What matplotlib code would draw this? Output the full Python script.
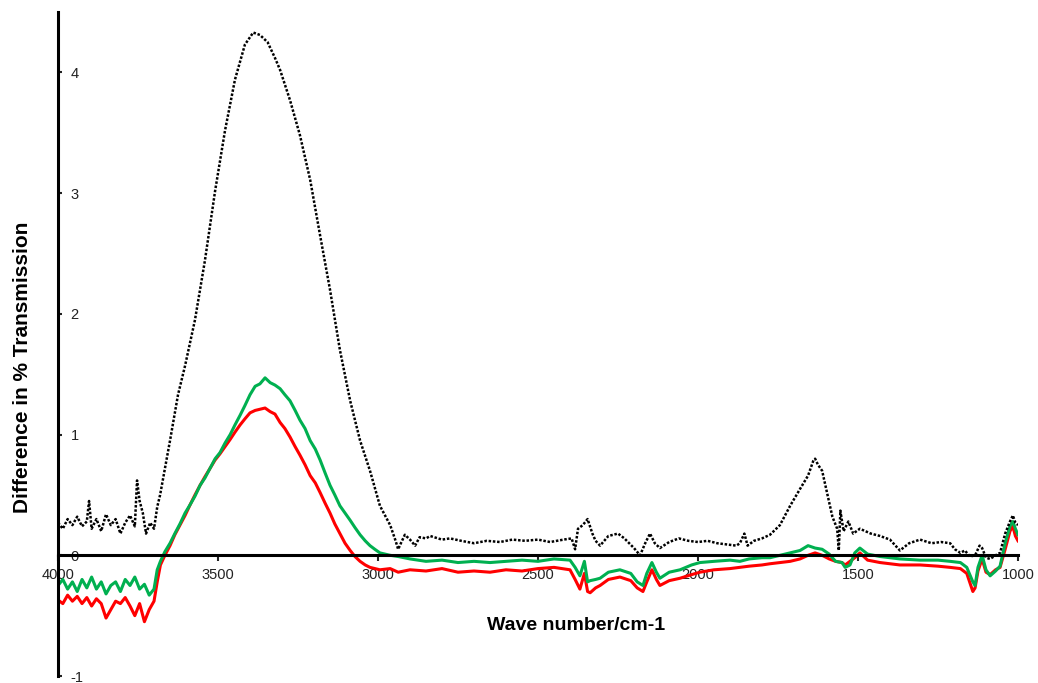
import matplotlib.pyplot as plt

plt.rcParams['font.family'] = ['Liberation Sans', 'DejaVu Sans']

# black trace
wn_black = [4000, 3985, 3970, 3955, 3940, 3925, 3910, 3903, 3895, 3880, 3865, 3850, 3835, 3820,
            3805, 3790, 3775, 3760, 3753, 3745, 3735, 3725, 3712, 3700, 3690, 3681, 3666, 3650,
            3625, 3603, 3572, 3541, 3509, 3478, 3447, 3416, 3390, 3369, 3345, 3322, 3306, 3275,
            3244, 3212, 3181, 3150, 3119, 3087, 3056, 3025, 2994, 2962, 2945, 2937, 2925, 2916,
            2900, 2884, 2870, 2850, 2837, 2800, 2775, 2740, 2700, 2660, 2619, 2580, 2540, 2500,
            2462, 2420, 2395, 2384, 2375, 2360, 2345, 2330, 2320, 2306, 2280, 2250, 2230, 2200,
            2181, 2165, 2150, 2135, 2119, 2090, 2060, 2030, 2000, 1970, 1940, 1910, 1880, 1869,
            1855, 1845, 1825, 1800, 1775, 1744, 1712, 1681, 1656, 1640, 1634, 1625, 1612, 1595,
            1580, 1565, 1560, 1555, 1545, 1530, 1515, 1494, 1460, 1431, 1400, 1369, 1340, 1306,
            1270, 1240, 1212, 1197, 1180, 1166, 1150, 1134, 1120, 1112, 1100, 1087, 1070, 1056,
            1040, 1025, 1016, 1008, 1000]
val_black = [0.27, 0.22, 0.30, 0.25, 0.32, 0.24, 0.28, 0.45, 0.22, 0.30, 0.20, 0.34, 0.25, 0.30,
             0.18, 0.27, 0.33, 0.24, 0.62, 0.45, 0.35, 0.18, 0.27, 0.22, 0.40, 0.50, 0.72, 0.95,
             1.33, 1.57, 1.95, 2.44, 3.02, 3.52, 3.94, 4.23, 4.33, 4.31, 4.25, 4.12, 4.02, 3.77,
             3.48, 3.11, 2.65, 2.20, 1.70, 1.28, 0.95, 0.70, 0.41, 0.25, 0.12, 0.05, 0.12, 0.17,
             0.13, 0.08, 0.15, 0.14, 0.16, 0.13, 0.14, 0.12, 0.10, 0.12, 0.11, 0.13, 0.12, 0.13,
             0.11, 0.13, 0.14, 0.05, 0.22, 0.25, 0.30, 0.18, 0.12, 0.08, 0.16, 0.18, 0.14, 0.06,
             0.00, 0.10, 0.18, 0.10, 0.06, 0.11, 0.14, 0.12, 0.11, 0.12, 0.10, 0.09, 0.08, 0.10,
             0.18, 0.08, 0.12, 0.14, 0.17, 0.25, 0.41, 0.55, 0.66, 0.78, 0.80, 0.75, 0.70, 0.50,
             0.32, 0.22, 0.04, 0.37, 0.20, 0.28, 0.18, 0.22, 0.18, 0.16, 0.13, 0.04, 0.10, 0.13,
             0.10, 0.11, 0.10, 0.05, 0.02, 0.04, -0.01, 0.00, 0.08, 0.06, -0.02, -0.03, 0.00, 0.02,
             0.18, 0.28, 0.33, 0.27, 0.25]

# green trace
wn_green = [4000, 3985, 3970, 3955, 3940, 3925, 3910, 3895, 3880, 3865, 3850, 3835, 3820, 3805,
            3790, 3775, 3760, 3745, 3730, 3715, 3700, 3690, 3680, 3666, 3650, 3635, 3619, 3603,
            3587, 3572, 3556, 3541, 3525, 3509, 3494, 3478, 3462, 3447, 3431, 3416, 3400, 3384,
            3369, 3353, 3337, 3322, 3306, 3291, 3275, 3259, 3244, 3228, 3212, 3196, 3181, 3165,
            3150, 3135, 3119, 3103, 3087, 3072, 3056, 3040, 3025, 3010, 2994, 2962, 2937, 2900,
            2850, 2800, 2750, 2700, 2650, 2600, 2550, 2500, 2450, 2400, 2384, 2369, 2355, 2345,
            2337, 2320, 2306, 2280, 2244, 2210, 2190, 2172, 2160, 2144, 2130, 2119, 2090, 2056,
            2020, 1994, 1950, 1900, 1869, 1840, 1800, 1775, 1744, 1712, 1681, 1656, 1634, 1612,
            1590, 1570, 1550, 1540, 1525, 1510, 1494, 1470, 1431, 1400, 1369, 1306, 1250, 1212,
            1180, 1160, 1141, 1134, 1125, 1112, 1100, 1087, 1070, 1056, 1040, 1025, 1016, 1008,
            1000]
val_green = [-0.25, -0.20, -0.28, -0.22, -0.30, -0.20, -0.27, -0.18, -0.28, -0.22, -0.32, -0.25,
             -0.22, -0.30, -0.20, -0.25, -0.18, -0.28, -0.24, -0.33, -0.28, -0.12, -0.05, 0.03,
             0.10, 0.18, 0.26, 0.35, 0.42, 0.49, 0.58, 0.64, 0.72, 0.80, 0.85, 0.93, 1.00, 1.08,
             1.16, 1.24, 1.33, 1.40, 1.42, 1.47, 1.43, 1.41, 1.38, 1.33, 1.28, 1.20, 1.12, 1.05,
             0.95, 0.88, 0.79, 0.68, 0.58, 0.50, 0.41, 0.35, 0.29, 0.23, 0.17, 0.12, 0.08, 0.05,
             0.02, 0.00, -0.01, -0.03, -0.05, -0.04, -0.06, -0.05, -0.06, -0.05, -0.04, -0.05,
             -0.03, -0.04, -0.10, -0.17, -0.05, -0.22, -0.21, -0.20, -0.19, -0.14, -0.12, -0.15,
             -0.22, -0.25, -0.15, -0.06, -0.14, -0.19, -0.14, -0.12, -0.08, -0.06, -0.05, -0.04,
             -0.05, -0.03, -0.02, -0.02, 0.00, 0.02, 0.04, 0.08, 0.06, 0.05, 0.01, -0.05, -0.06,
             -0.10, -0.08, 0.02, 0.06, 0.01, -0.01, -0.02, -0.03, -0.04, -0.04, -0.05, -0.06,
             -0.10, -0.22, -0.25, -0.10, 0.00, -0.12, -0.17, -0.13, -0.09, 0.10, 0.24, 0.28, 0.22,
             0.17]

# red trace (same wavenumbers as green)
wn_red = wn_green
val_red = [-0.37, -0.40, -0.33, -0.38, -0.34, -0.40, -0.35, -0.42, -0.36, -0.40, -0.52, -0.45,
           -0.38, -0.40, -0.35, -0.42, -0.50, -0.40, -0.55, -0.45, -0.38, -0.22, -0.08, 0.00,
           0.08, 0.17, 0.25, 0.33, 0.42, 0.50, 0.58, 0.65, 0.72, 0.79, 0.84, 0.90, 0.96, 1.02,
           1.08, 1.13, 1.18, 1.20, 1.21, 1.22, 1.19, 1.17, 1.10, 1.05, 0.98, 0.90, 0.83, 0.75,
           0.66, 0.60, 0.52, 0.43, 0.35, 0.26, 0.18, 0.10, 0.04, -0.01, -0.05, -0.08, -0.10,
           -0.11, -0.12, -0.11, -0.14, -0.12, -0.13, -0.11, -0.14, -0.13, -0.14, -0.12, -0.13,
           -0.11, -0.10, -0.12, -0.20, -0.28, -0.15, -0.30, -0.31, -0.27, -0.25, -0.20, -0.18,
           -0.21, -0.27, -0.30, -0.22, -0.12, -0.20, -0.25, -0.21, -0.19, -0.16, -0.14, -0.12,
           -0.11, -0.10, -0.09, -0.08, -0.07, -0.06, -0.05, -0.03, 0.00, 0.02, 0.00, -0.03,
           -0.05, -0.06, -0.08, -0.05, -0.02, 0.02, -0.04, -0.06, -0.07, -0.08, -0.08, -0.09,
           -0.10, -0.11, -0.15, -0.30, -0.27, -0.13, -0.03, -0.14, -0.16, -0.12, -0.10, 0.05,
           0.20, 0.24, 0.16, 0.12]

x_ticks = [4000, 3500, 3000, 2500, 2000, 1500, 1000]
y_ticks = [-1, 0, 1, 2, 3, 4]

fig = plt.figure(figsize=(10.38, 6.83), dpi=100)
ax = fig.add_axes([0.0559, 0.0102, 0.9248, 0.9722])

ax.plot(wn_red, val_red, color='#ff0000', lw=2.2)
ax.plot(wn_green, val_green, color='#00b050', lw=2.2)
ax.plot(wn_black, val_black, color='black', lw=1.8, linestyle=(0, (1, 0.7)))

ax.set_xlim(4000, 1000)
ax.set_ylim(-1.0, 4.5)

ax.spines['top'].set_visible(False)
ax.spines['right'].set_visible(False)
ax.spines['bottom'].set_position(('data', 0))
ax.spines['left'].set_linewidth(2.2)
ax.spines['bottom'].set_linewidth(2.2)

ax.set_xticks(x_ticks)
ax.set_xticklabels([str(t) for t in x_ticks])
ax.set_yticks(y_ticks)
ax.set_yticklabels([str(t) for t in y_ticks])
ax.tick_params(axis='x', direction='out', length=4, width=1.5, pad=5, labelsize=10.5, colors='#222222')
ax.tick_params(axis='y', direction='in', length=3, width=1.5, pad=-9, labelsize=10.5, colors='#222222')
for lab in ax.get_yticklabels():
    lab.set_horizontalalignment('left')

ax.set_xlabel('Wave number/cm-1', fontsize=14, fontweight='bold')
ax.xaxis.set_label_coords(0.54, 0.089)
ax.set_ylabel('Difference in % Transmission', fontsize=15, fontweight='bold')
ax.yaxis.set_label_coords(-0.027, 0.465)

fig.savefig('out.png', dpi=100)
